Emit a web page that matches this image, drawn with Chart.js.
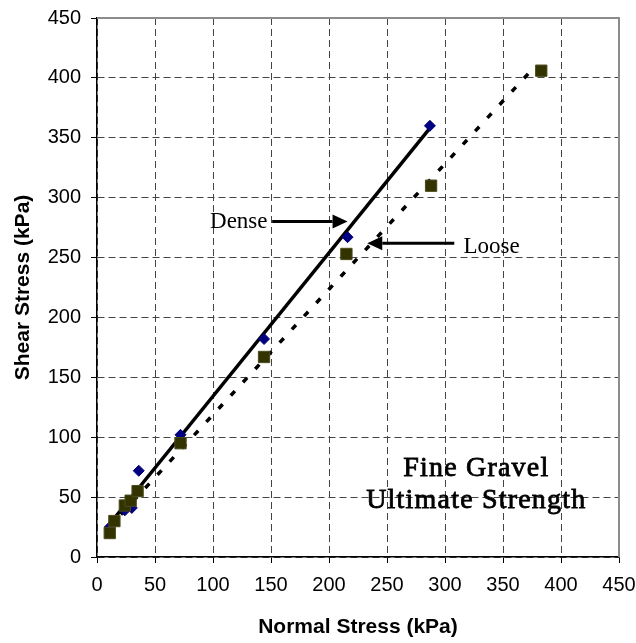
<!DOCTYPE html>
<html>
<head>
<meta charset="utf-8">
<script src="https://cdn.jsdelivr.net/npm/chart.js@4.4.0/dist/chart.umd.min.js"></script>
<style>
  body { margin: 0; background: #fff; }
  canvas { display: block; }
</style>
</head>
<body>
<canvas id="gravelChart" width="636" height="643"></canvas>
<script>
// Dense gravel - normal / shear stress (kPa)
const denseNormal = [11, 24, 30, 36, 72, 144, 216, 287];
const denseShear = [25, 39, 41, 72, 102, 182, 267, 360];

// Loose gravel
const looseNormal = [11, 15, 24, 29, 35, 72, 144, 215, 288, 383];
const looseShear = [20, 30, 43, 47, 55, 95, 167, 253, 310, 406];

// Trend lines (end points)
const denseFitNormal = [10, 287];
const denseFitShear = [26.5, 358];
const looseFitNormal = [10, 378];
const looseFitShear = [24.5, 410];

// Axis ticks
const normalTicks = [0, 50, 100, 150, 200, 250, 300, 350, 400, 450];
const shearTicks = [0, 50, 100, 150, 200, 250, 300, 350, 400, 450];

const denseLabel = 'Dense';
const looseLabel = 'Loose';
const noteLines = ['Fine Gravel', 'Ultimate Strength'];

function toPoints(xs, ys) {
    return xs.map((x, i) => ({ x: x, y: ys[i] }));
}

function drawArrow(ctx, x1, y, x2) {
    // horizontal arrow, head at x2
    const dir = x2 > x1 ? 1 : -1;
    const headLen = 15;
    const headHalf = 7;
    ctx.beginPath();
    ctx.moveTo(x1, y);
    ctx.lineTo(x2 - dir * headLen, y);
    ctx.stroke();
    ctx.beginPath();
    ctx.moveTo(x2, y);
    ctx.lineTo(x2 - dir * headLen, y - headHalf);
    ctx.lineTo(x2 - dir * headLen, y + headHalf);
    ctx.closePath();
    ctx.fill();
}

// Gray frame on top/right + text labels and arrows
const notesPlugin = {
    id: 'notes',
    afterDraw(chart) {
        const ctx = chart.ctx;
        const area = chart.chartArea;
        const xs = chart.scales.x;
        const ys = chart.scales.y;

        ctx.save();
        ctx.strokeStyle = '#8c8c8c';
        ctx.lineWidth = 2;
        ctx.beginPath();
        ctx.moveTo(area.left, area.top);
        ctx.lineTo(area.right, area.top);
        ctx.lineTo(area.right, area.bottom);
        ctx.stroke();

        ctx.fillStyle = '#000';
        ctx.strokeStyle = '#000';
        ctx.lineWidth = 3;
        ctx.font = '23px "Liberation Serif", "Times New Roman", serif';
        ctx.textBaseline = 'middle';

        // Dense
        ctx.textAlign = 'right';
        ctx.fillText(denseLabel, xs.getPixelForValue(147), ys.getPixelForValue(280));
        drawArrow(ctx, xs.getPixelForValue(151), ys.getPixelForValue(280), xs.getPixelForValue(216));

        // Loose
        ctx.textAlign = 'left';
        ctx.fillText(looseLabel, xs.getPixelForValue(316), ys.getPixelForValue(259));
        drawArrow(ctx, xs.getPixelForValue(308), ys.getPixelForValue(262), xs.getPixelForValue(233));

        // Title inside the plot, slightly heavier than regular
        ctx.textAlign = 'center';
        ctx.font = '28px "Liberation Serif", "Times New Roman", serif';
        ctx.letterSpacing = '1.2px';
        ctx.lineWidth = 0.8;
        noteLines.forEach((line, i) => {
            const px = xs.getPixelForValue(327);
            const py = ys.getPixelForValue(i === 0 ? 74 : 47);
            ctx.fillText(line, px, py);
            ctx.strokeText(line, px, py);
        });
        ctx.restore();
    }
};

const tickFont = { family: '"Liberation Sans", Arial, sans-serif', size: 20 };
const titleFont = { family: '"Liberation Sans", Arial, sans-serif', size: 21, weight: 'bold' };

const canvas = document.getElementById('gravelChart');
const chart = new Chart(canvas.getContext('2d'), {
    type: 'scatter',
    data: {
        datasets: [{
            label: 'Loose',
            data: toPoints(looseNormal, looseShear),
            pointStyle: 'rect',
            pointRadius: 8,
            backgroundColor: '#333300',
            borderColor: '#4a4a1c',
            borderWidth: 1,
            order: 0
        }, {
            label: 'Dense',
            data: toPoints(denseNormal, denseShear),
            pointStyle: 'rectRot',
            pointRadius: 5.5,
            backgroundColor: '#000080',
            borderColor: '#000080',
            borderWidth: 1,
            order: 1
        }, {
            label: 'Dense fit',
            data: toPoints(denseFitNormal, denseFitShear),
            showLine: true,
            borderColor: '#000',
            borderWidth: 3.5,
            pointRadius: 0,
            order: 2
        }, {
            label: 'Loose fit',
            data: toPoints(looseFitNormal, looseFitShear),
            showLine: true,
            borderColor: '#000',
            borderWidth: 3.5,
            borderDash: [6, 12],
            pointRadius: 0,
            order: 3
        }]
    },
    options: {
        responsive: false,
        animation: false,
        events: [],
        layout: { padding: { left: 0, right: 17, top: 18, bottom: 0 } },
        plugins: {
            legend: { display: false },
            tooltip: { enabled: false }
        },
        scales: {
            x: {
                type: 'linear',
                min: normalTicks[0],
                max: normalTicks[normalTicks.length - 1],
                afterBuildTicks: (scale) => { scale.ticks = normalTicks.map(v => ({ value: v })); },
                afterFit: (scale) => {
                    scale.height = 86;
                    scale.paddingLeft = 0;
                    scale.paddingRight = 0;
                },
                grid: { color: '#444', lineWidth: 1, tickLength: 6, tickColor: '#000' },
                border: { color: '#000', width: 1.5, dash: [7, 4] },
                ticks: { color: '#000', font: tickFont, padding: 10, maxRotation: 0 },
                title: { display: true, text: 'Normal Stress (kPa)', color: '#000', font: titleFont, padding: { top: 0, bottom: 3 } }
            },
            y: {
                type: 'linear',
                min: shearTicks[0],
                max: shearTicks[shearTicks.length - 1],
                afterBuildTicks: (scale) => { scale.ticks = shearTicks.map(v => ({ value: v })); },
                afterFit: (scale) => {
                    scale.width = 97;
                    scale.paddingTop = 0;
                    scale.paddingBottom = 0;
                },
                grid: { color: '#444', lineWidth: 1, tickLength: 6, tickColor: '#000' },
                border: { color: '#000', width: 1.5, dash: [7, 4] },
                ticks: { color: '#000', font: tickFont, padding: 10 },
                title: { display: true, text: 'Shear Stress (kPa)', color: '#000', font: titleFont, padding: { top: 11, bottom: 0 } }
            }
        }
    },
    plugins: [notesPlugin]
});
</script>
</body>
</html>
